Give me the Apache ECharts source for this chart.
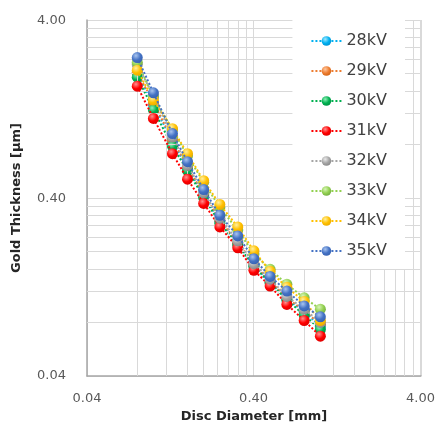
<!DOCTYPE html>
<html><head><meta charset="utf-8">
<script src="https://cdn.jsdelivr.net/npm/echarts@6/dist/echarts.min.js"></script>
<style>html,body{margin:0;padding:0;background:#fff}#c{width:438px;height:428px}</style>
</head><body><div id="c"></div>
<script>
const diameters = [0.08, 0.10, 0.13, 0.16, 0.20, 0.25, 0.32, 0.40, 0.50, 0.63, 0.80, 1.00];
const seriesNames = ['28kV','29kV','30kV','31kV','32kV','33kV','34kV','35kV'];
const kv28 = [2.01, 1.34, 0.83, 0.59, 0.413, 0.296, 0.221, 0.167, 0.134, 0.108, 0.092, 0.076];
const kv29 = [2.03, 1.37, 0.85, 0.60, 0.418, 0.300, 0.224, 0.169, 0.136, 0.110, 0.093, 0.078];
const kv30 = [1.91, 1.25, 0.78, 0.57, 0.403, 0.289, 0.218, 0.165, 0.133, 0.107, 0.088, 0.073];
const kv31 = [1.70, 1.12, 0.71, 0.51, 0.373, 0.275, 0.210, 0.157, 0.128, 0.101, 0.082, 0.067];
const kv32 = [2.25, 1.50, 0.88, 0.61, 0.429, 0.308, 0.230, 0.171, 0.140, 0.112, 0.095, 0.080];
const kv33 = [2.31, 1.48, 0.97, 0.69, 0.490, 0.354, 0.264, 0.194, 0.159, 0.131, 0.110, 0.095];
const kv34 = [2.09, 1.42, 0.98, 0.71, 0.500, 0.368, 0.275, 0.202, 0.155, 0.126, 0.105, 0.082];
const kv35 = [2.46, 1.56, 0.92, 0.64, 0.446, 0.320, 0.245, 0.182, 0.145, 0.120, 0.099, 0.086];
const allValues = [kv28, kv29, kv30, kv31, kv32, kv33, kv34, kv35];
const xMinorGrid = [0.08,0.12,0.16,0.20,0.24,0.28,0.32,0.36,0.8,1.2,1.6,2.0,2.4,2.8,3.2,3.6];
const yMinorGrid = [0.08,0.12,0.16,0.20,0.24,0.28,0.32,0.36,0.8,1.2,1.6,2.0,2.4,2.8,3.2,3.6];

const lineColors = ['#00B0F0','#ED7D31','#00B050','#FF0000','#A5A5A5','#92D050','#FFC000','#4472C4'];
const ballDark  = ['#0090D0','#D06010','#009040','#D80000','#858585','#70A840','#E8A800','#3560B0'];
const ballLight = ['#A0E8FF','#FFC8A0','#90F0B8','#FF9090','#EAEAEA','#D8F5B8','#FFF0A0','#A8C4F0'];

const FONT = 'DejaVu Sans';
function ball(i){
  return {type:'radial', x:0.38, y:0.32, r:0.75,
    colorStops:[{offset:0,color:ballLight[i]},{offset:0.55,color:lineColors[i]},{offset:1,color:ballDark[i]}]};
}
function fmt(v){ return Number(Number(v).toPrecision(2)).toFixed(2); }
const series = [{
  type:'line', name:'grid', data:[], z:1, silent:true,
  markLine:{silent:true, symbol:['none','none'], animation:false,
    label:{show:false}, lineStyle:{color:'#D9D9D9', type:'solid', width:1},
    data: xMinorGrid.map(v=>({xAxis:v})).concat(yMinorGrid.map(v=>({yAxis:v})))}
}];
seriesNames.forEach((n,i)=>{
  series.push({
    type:'line', name:n, z:2+i,
    data: diameters.map((d,j)=>[d, allValues[i][j]]),
    symbol:'circle', symbolSize:11, showSymbol:true,
    lineStyle:{color:lineColors[i], width:2, type:'dotted'},
    itemStyle:{color:ball(i), borderWidth:0},
    emphasis:{disabled:true}, animation:false
  });
});

const chart = echarts.init(document.getElementById('c'), null, {renderer:'canvas'});
chart.setOption({
  animation:false,
  backgroundColor:'#ffffff',
  grid:{left:87, right:17, top:20, bottom:47, containLabel:false},
  legend:{
    data: seriesNames, orient:'vertical', right:33, top:20, z:10,
    backgroundColor:'#ffffff', padding:[13,18,10,18],
    itemWidth:30, itemHeight:12, itemGap:14,
    textStyle:{fontFamily:FONT, fontSize:16, color:'#404040'}
  },
  xAxis:{
    type:'log', logBase:10, min:0.04, max:4, interval:1,
    name:'Disc Diameter [mm]', nameLocation:'middle', nameGap:34,
    nameTextStyle:{fontFamily:FONT, fontWeight:'bold', fontSize:13, color:'#262626'},
    axisLine:{show:true, lineStyle:{color:'#A6A6A6', width:1.5}},
    axisTick:{show:false},
    axisLabel:{fontFamily:FONT, fontSize:13, color:'#595959', margin:16, formatter:fmt},
    splitLine:{show:true, lineStyle:{color:'#D9D9D9', width:1}}
  },
  yAxis:{
    type:'log', logBase:10, min:0.04, max:4, interval:1,
    name:'Gold Thickness [µm]', nameLocation:'middle', nameGap:64,
    nameTextStyle:{fontFamily:FONT, fontWeight:'bold', fontSize:13, color:'#262626'},
    axisLine:{show:true, lineStyle:{color:'#A6A6A6', width:1.5}},
    axisTick:{show:false},
    axisLabel:{fontFamily:FONT, fontSize:13, color:'#595959', margin:21, formatter:fmt},
    splitLine:{show:true, lineStyle:{color:'#D9D9D9', width:1}}
  },
  series: series
});
</script></body></html>
